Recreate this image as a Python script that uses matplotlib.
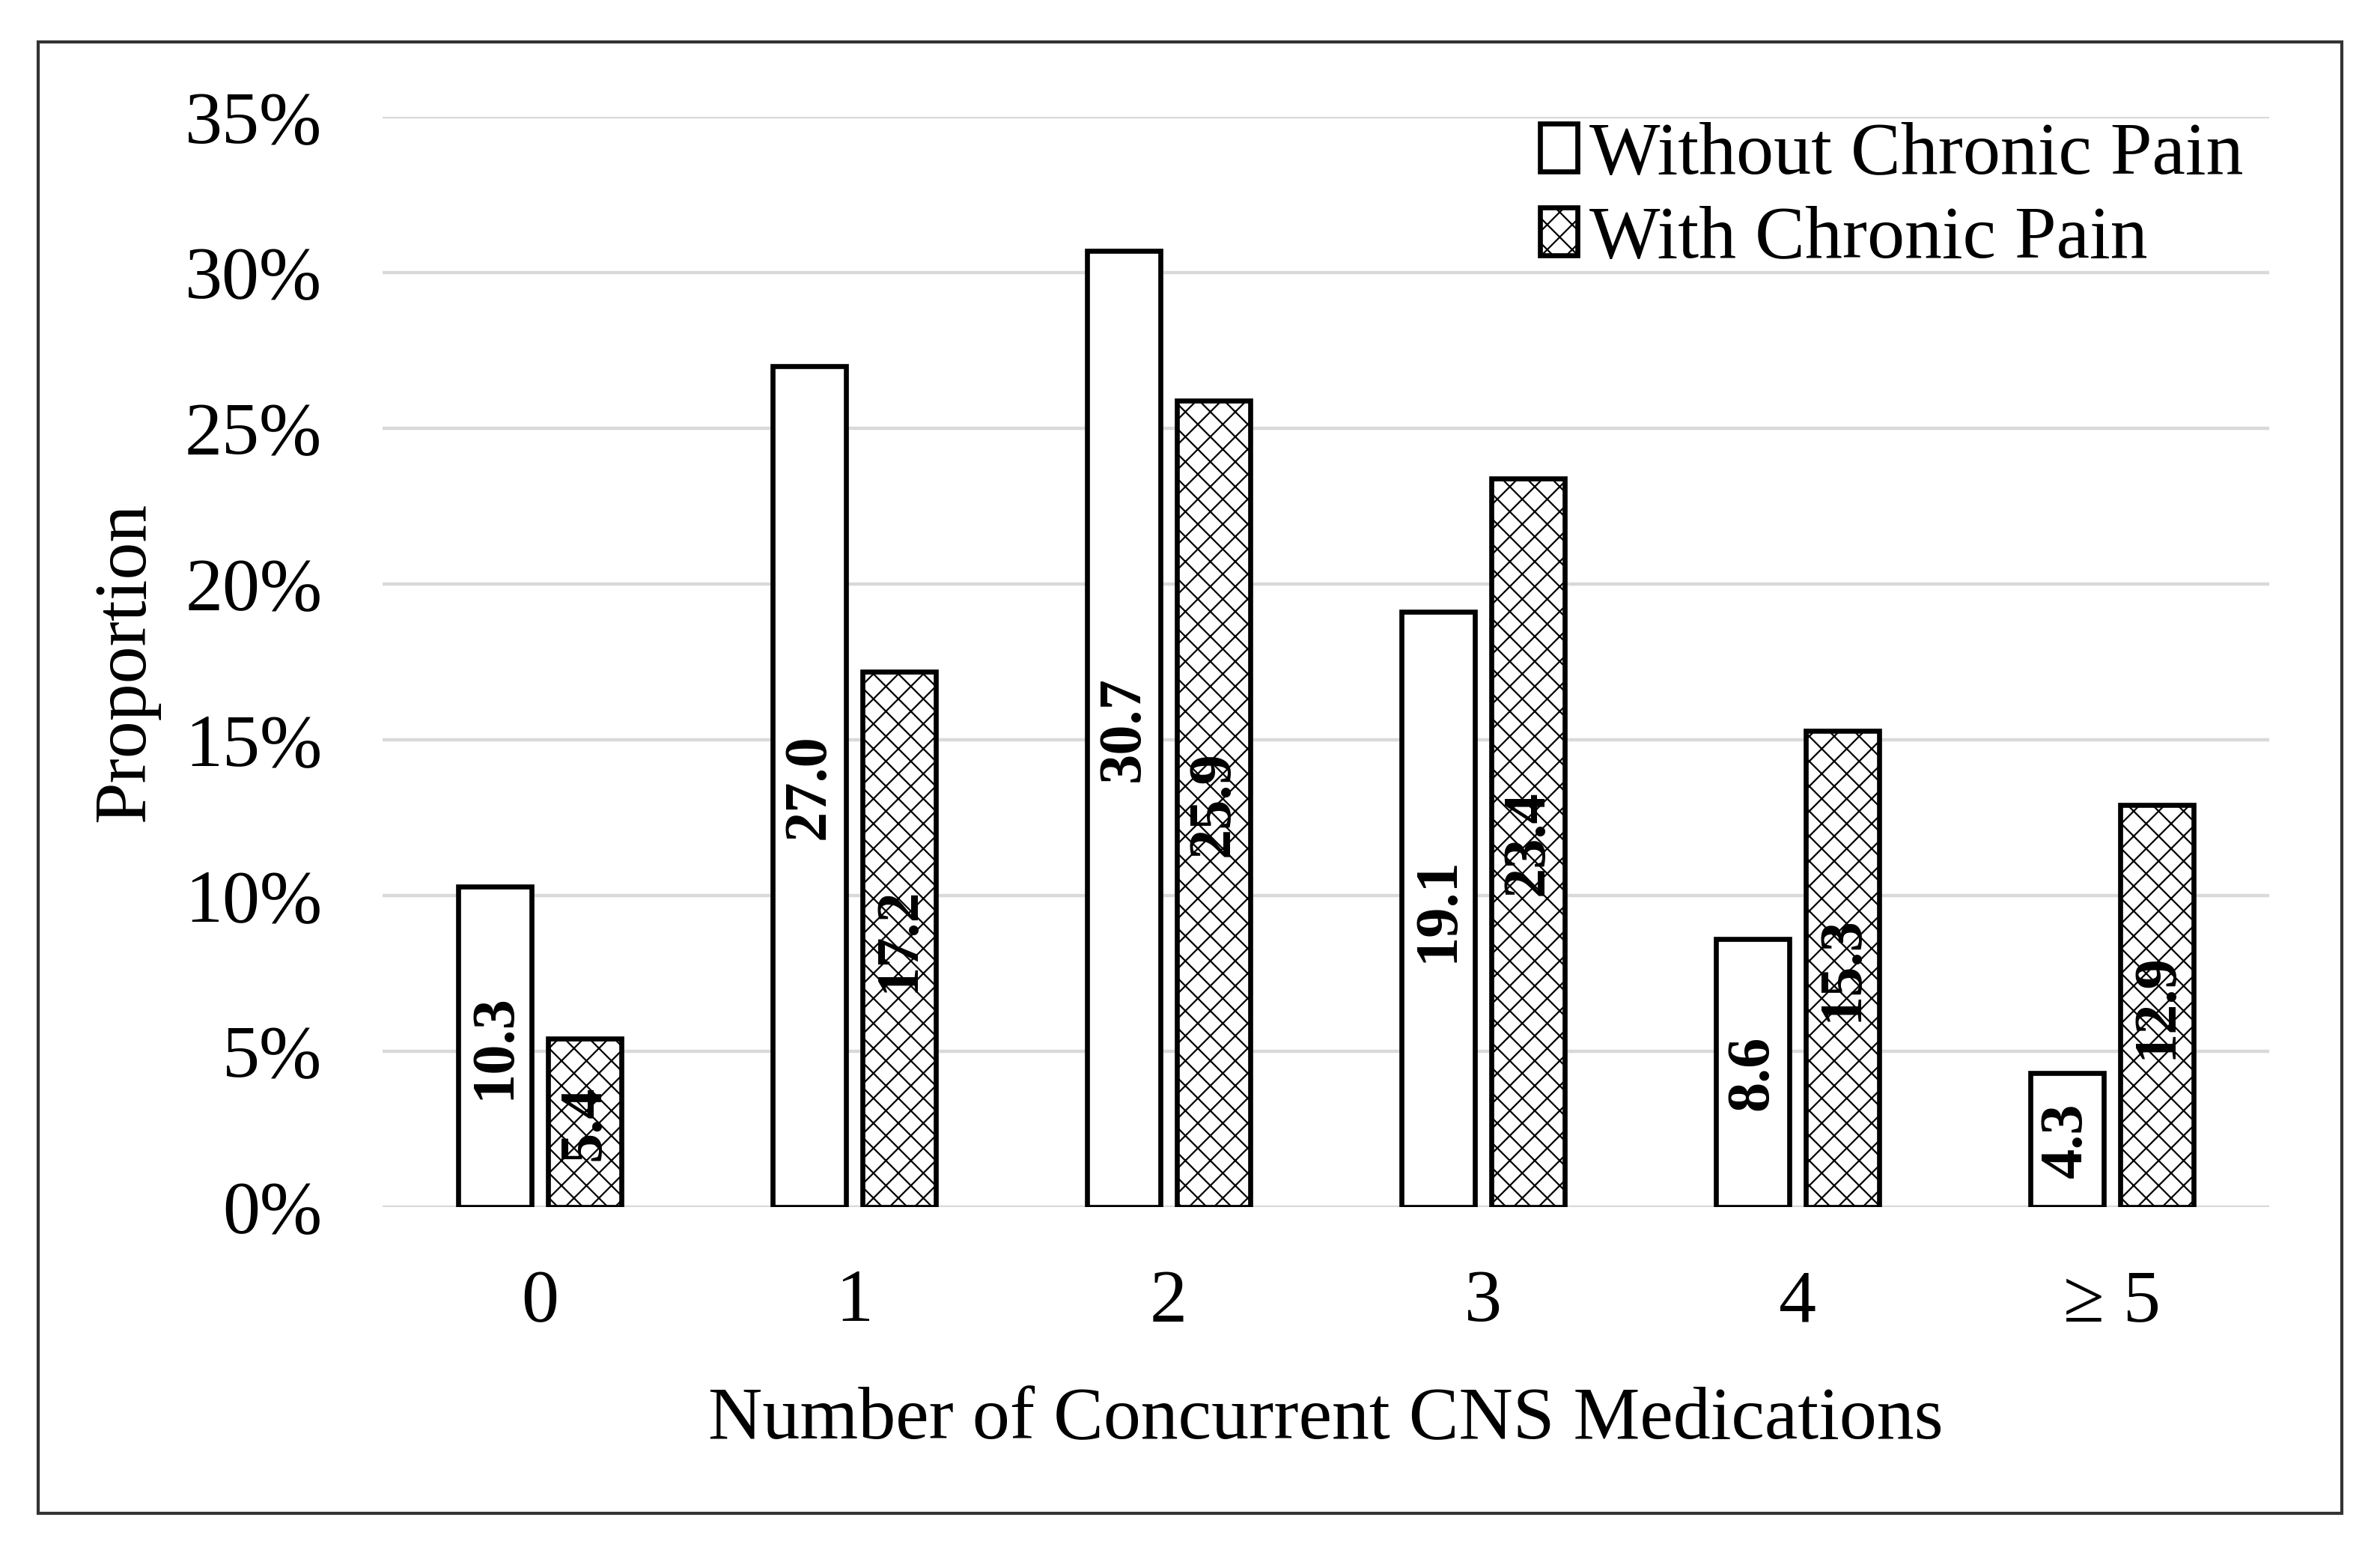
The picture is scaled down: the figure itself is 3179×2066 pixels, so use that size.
import numpy as np
import matplotlib.pyplot as plt
from matplotlib.patches import Rectangle
from matplotlib.ticker import FuncFormatter

categories = ['0', '1', '2', '3', '4', '\u2265 5']
without_pain = [10.3, 27.0, 30.7, 19.1, 8.6, 4.3]
with_pain = [5.4, 17.2, 25.9, 23.4, 15.3, 12.9]
series_names = ['Without Chronic Pain', 'With Chronic Pain']

plt.rcParams['font.family'] = ['Liberation Serif', 'DejaVu Serif']
plt.rcParams['hatch.color'] = '#6e6e6e'
plt.rcParams['hatch.linewidth'] = 0.8

fig = plt.figure(figsize=(15.895, 10.33), dpi=200)
ax = fig.add_axes([0.1607, 0.2198, 0.7927, 0.7046])

x = np.arange(len(categories))
w = 0.232
off = 0.143
b1 = ax.bar(x - off, np.array(without_pain) / 100, w, color='white',
            edgecolor='black', linewidth=2.4, label=series_names[0], zorder=3)
b2 = ax.bar(x + off, np.array(with_pain) / 100, w, color='white',
            edgecolor='black', linewidth=2.4, hatch='xx', label=series_names[1], zorder=3)

# value labels, rotated, centred in the bars
for bars, vals in [(b1, without_pain), (b2, with_pain)]:
    for r, v in zip(bars, vals):
        ax.text(r.get_x() + r.get_width() / 2, r.get_height() / 2, f'{v:.1f}',
                rotation=90, ha='center', va='center', fontsize=29,
                fontweight='bold', zorder=4)

ax.set_xlim(-0.5, len(categories) - 0.5)
ax.set_ylim(0, 0.35)
ax.set_yticks(np.arange(0, 0.351, 0.05))
ax.yaxis.set_major_formatter(FuncFormatter(lambda v, p: f'{v * 100:.0f}%'))
ax.set_xticks(x)
ax.set_xticklabels(categories)
ax.tick_params(axis='both', length=0, labelsize=36)
ax.tick_params(axis='x', pad=30)
ax.tick_params(axis='y', pad=29)
ax.grid(axis='y', color='#d9d9d9', linewidth=1.6, zorder=0)
ax.set_axisbelow(True)
for s in ax.spines.values():
    s.set_visible(False)

ax.set_ylabel('Proportion', fontsize=36)
ax.yaxis.set_label_coords(-0.118, 0.5)
ax.set_xlabel('Number of Concurrent CNS Medications', fontsize=36)
ax.xaxis.set_label_coords(0.5, -0.196)
ax.xaxis.label.set_va('center')

fig.legend(handles=[b1, b2], loc='upper left', bbox_to_anchor=(0.647, 0.921),
           frameon=False, fontsize=36, handlelength=0.5, handleheight=0.6,
           handletextpad=0.16, labelspacing=0.22, borderpad=0, borderaxespad=0)

# outer frame
fig.patches.append(Rectangle((0.016, 0.022), 0.968, 0.951, transform=fig.transFigure,
                             fill=False, edgecolor='#333333', linewidth=1.5))

fig.savefig('out.png', dpi=200)
